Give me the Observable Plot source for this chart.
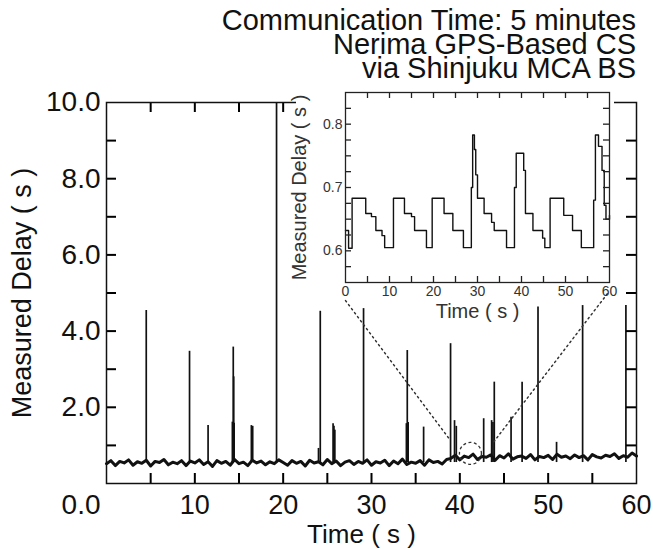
<!DOCTYPE html>
<html><head><meta charset="utf-8">
<script src="https://cdn.jsdelivr.net/npm/d3@7"></script>
<script src="https://cdn.jsdelivr.net/npm/@observablehq/plot@0.6"></script>
<style>
body{margin:0;background:#fff;}
#wrap{position:relative;width:653px;height:550px;font-family:"Liberation Sans",Arial,sans-serif;}
#title{position:absolute;right:17px;top:8px;text-align:right;font-size:29px;line-height:24px;color:#111;white-space:nowrap;}
#mask{position:absolute;left:296px;top:86px;width:318px;height:202px;background:#fff;}
#main{position:absolute;left:0;top:0;}
#inset{position:absolute;left:296px;top:86px;}
</style></head><body>
<div id="wrap">
<div id="main"></div>
<div id="mask"></div>
<div id="inset"></div>
<div id="title">Communication Time: 5 minutes<br>Nerima GPS-Based CS<br>via Shinjuku MCA BS</div>
</div>
<script>
// ---- main chart data ----
const baseStep = 0.5; // sampling interval (s) of the baseline trace
const baselineDelay = [
  0.52,0.60,0.47,0.58,0.54,0.62,0.48,0.57,0.53,0.61,
  0.46,0.58,0.55,0.63,0.49,0.56,0.52,0.60,0.47,0.59,
  0.54,0.62,0.50,0.57,0.45,0.60,0.53,0.58,0.48,0.63,
  0.52,0.56,0.47,0.61,0.54,0.59,0.49,0.57,0.52,0.62,
  0.55,0.48,0.60,0.53,0.58,0.46,0.61,0.54,0.57,0.49,
  0.63,0.52,0.59,0.47,0.56,0.60,0.50,0.58,0.53,0.62,
  0.48,0.57,0.54,0.61,0.47,0.59,0.52,0.64,0.50,0.56,
  0.53,0.60,0.48,0.62,0.55,0.58,0.51,0.63,
  0.66,0.74,0.62,0.72,0.68,0.77,0.63,0.71,0.69,0.75,
  0.61,0.73,0.67,0.78,0.64,0.70,0.72,0.66,0.76,0.62,
  0.71,0.68,0.74,0.63,0.77,0.69,0.72,0.65,0.75,0.68,
  0.73,0.62,0.76,0.70,0.67,0.74,0.71,0.78,0.66,0.73,
  0.69,0.80,0.72
];
const baseDelay = 0.55;
const spikeTimes = [4.5,9.4,11.5,14.25,14.35,14.4,14.45,16.4,16.55,19.25,
  24.0,24.2,25.65,25.75,25.85,29.1,33.95,34.05,34.15,35.9,
  38.95,39.4,39.6,42.7,43.6,43.75,43.9,45.8,47.05,48.85,
  50.95,53.9,58.8];
const spikePeaks = [4.54,3.47,1.52,1.61,3.58,2.8,1.58,1.52,1.5,10,
  0.92,4.52,1.57,1.5,1.4,4.59,1.57,3.49,1.6,1.48,
  3.67,1.65,1.5,1.70,1.65,1.6,2.66,1.74,2.66,4.63,
  1.08,4.67,4.67];
// zoom annotation (dotted guide lines and dashed circle)
const guideSide = ["left","left","right","right"];
const guideTimes = [27.06,38.94,56.7,43.7];
const guideDelay = [4.80,1.13,4.98,1.05];
const zoomTime = [41.2];
const zoomDelay = [0.79];
const xTickLabels = [10,20,30,40,50,60];
const xMinorTicks = [5,10,15,20,25,30,35,40,45,50,55];
const yTickLabels = [2,4,6,8,10];
const yMinorTicks = [1,2,3,4,5,6,7,8,9];

// ---- inset data (step trace) ----
const insetTimes = [0,0.7,1.5,4.6,5.9,6.9,8.3,8.9,10.9,13.4,
  15.0,15.7,18.4,19.7,22.4,24.4,26.8,28.6,28.9,29.3,
  29.6,30.0,31.5,33.2,33.8,36.6,38.4,38.8,40.5,40.9,
  42.6,44.8,45.3,46.5,49.6,51.6,53.6,56.4,56.8,57.5,
  58.3,58.8,59.2,60];
const insetDelay = [0.632,0.604,0.683,0.659,0.654,0.632,0.624,0.605,0.683,0.659,
  0.654,0.632,0.605,0.683,0.659,0.632,0.605,0.700,0.783,0.760,
  0.720,0.683,0.659,0.645,0.632,0.605,0.700,0.754,0.727,0.659,
  0.632,0.620,0.605,0.683,0.656,0.632,0.605,0.680,0.783,0.765,
  0.727,0.672,0.650,0.656];
const insetXTickLabels = [0,10,20,30,40,50,60];
const insetXMinor = [5,10,15,20,25,30,35,40,45,50,55];
const insetYTickLabels = [0.6,0.7,0.8];
const insetYMinor = [0.575,0.6,0.625,0.65,0.675,0.7,0.725,0.75,0.775,0.8,0.825];

// ---- build tables ----
const baseline = baselineDelay.map((v,i)=>({t:i*baseStep, v}));
const spikes = spikeTimes.map((t,i)=>({t, v:spikePeaks[i]}));
const guides = guideTimes.map((t,i)=>({t, v:guideDelay[i], side:guideSide[i]}));
const zoomMark = zoomTime.map((t,i)=>({t, v:zoomDelay[i]}));
const inset = insetTimes.map((t,i)=>({t, v:insetDelay[i]}));

const FONT = "Liberation Sans, Arial, sans-serif";

// inward tick marks on every frame edge; tick length given in pixels and
// converted to data units through the frame size and the scale domains
function tickSegments(xT, yT, xDom, yDom, frameW, frameH, len) {
  const ky = len * (yDom[1] - yDom[0]) / frameH;
  const kx = len * (xDom[1] - xDom[0]) / frameW;
  return [
    ...xT.map(t => ({x1:t, x2:t, y1:yDom[0], y2:yDom[0] + ky})),
    ...xT.map(t => ({x1:t, x2:t, y1:yDom[1] - ky, y2:yDom[1]})),
    ...yT.map(v => ({x1:xDom[0], x2:xDom[0] + kx, y1:v, y2:v})),
    ...yT.map(v => ({x1:xDom[1] - kx, x2:xDom[1], y1:v, y2:v}))
  ];
}

const MW = 653, MH = 550, ML = 106, MR = 17, MT = 102, MB = 67;
const mainX = [0, 60], mainY = [0, 10];
const mainTicks = tickSegments(xMinorTicks, yMinorTicks, mainX, mainY, MW-ML-MR, MH-MT-MB, 10);
const main = Plot.plot({
  width: MW, height: MH,
  marginLeft: ML, marginRight: MR, marginTop: MT, marginBottom: MB,
  x: {domain: mainX, axis: null},
  y: {domain: mainY, axis: null},
  style: {fontFamily: FONT, background: "#fff", color: "#111", overflow: "visible"},
  marks: [
    Plot.line(baseline, {x:"t", y:"v", stroke:"#111", strokeWidth:3}),
    Plot.ruleX(spikes, {x:"t", y1:baseDelay, y2:"v", stroke:"#111", strokeWidth:1.7}),
    Plot.ruleX(mainTicks, {x:"x1", y1:"y1", y2:"y2", stroke:"#000", strokeWidth:2}),
    Plot.ruleY(mainTicks, {y:"y1", x1:"x1", x2:"x2", stroke:"#000", strokeWidth:2}),
    Plot.line(guides, {x:"t", y:"v", z:"side", stroke:"#333", strokeWidth:1.5, strokeDasharray:"1.5,3.5"}),
    Plot.dot(zoomMark, {x:"t", y:"v", r:11, stroke:"#333", strokeWidth:1.3, strokeDasharray:"3,2.5", fill:"none"}),
    Plot.frame({stroke:"#111", strokeWidth:1.5}),
    Plot.axisX(xTickLabels, {anchor:"bottom", tickSize:0, tickPadding:11, fontSize:27, label:null, fill:"#111"}),
    Plot.axisY(yTickLabels, {anchor:"left", tickSize:0, tickPadding:6, fontSize:28, label:null, tickFormat:d3.format(".1f"), fill:"#111"}),
    Plot.text(["0.0"], {text:d=>d, frameAnchor:"bottom-left", textAnchor:"end", lineAnchor:"middle", dx:-6, dy:22, fontSize:28, fill:"#111"}),
    Plot.text(["Time ( s )"], {text:d=>d, frameAnchor:"bottom", textAnchor:"middle", lineAnchor:"middle", dx:-10, dy:51, fontSize:26, fill:"#111"}),
    Plot.text(["Measured Delay ( s )"], {text:d=>d, frameAnchor:"left", textAnchor:"middle", lineAnchor:"middle", rotate:-90, dx:-84, fontSize:27, fill:"#111"})
  ]
});
document.getElementById("main").appendChild(main);

const IW = 316, IH = 240, IL = 49, IR = 3, IT = 6, IB = 44;
const insX = [0, 60], insY = [0.55, 0.85];
const insTicks = tickSegments(insetXMinor, insetYMinor, insX, insY, IW-IL-IR, IH-IT-IB, 6);
const insetPlot = Plot.plot({
  width: IW, height: IH,
  marginLeft: IL, marginRight: IR, marginTop: IT, marginBottom: IB,
  x: {domain: insX, axis: null},
  y: {domain: insY, axis: null},
  style: {fontFamily: FONT, background: "transparent", color: "#333", overflow: "visible"},
  marks: [
    Plot.line(inset, {x:"t", y:"v", curve:"step-after", stroke:"#111", strokeWidth:1.4}),
    Plot.ruleX(insTicks, {x:"x1", y1:"y1", y2:"y2", stroke:"#222", strokeWidth:1.3}),
    Plot.ruleY(insTicks, {y:"y1", x1:"x1", x2:"x2", stroke:"#222", strokeWidth:1.3}),
    Plot.frame({stroke:"#222", strokeWidth:1.3}),
    Plot.axisX(insetXTickLabels, {anchor:"bottom", tickSize:0, tickPadding:4, fontSize:14, label:null, fill:"#333"}),
    Plot.axisY(insetYTickLabels, {anchor:"left", tickSize:0, tickPadding:3, fontSize:14, label:null, tickFormat:d3.format(".1f"), fill:"#333"}),
    Plot.text(["Time ( s )"], {text:d=>d, frameAnchor:"bottom", textAnchor:"middle", lineAnchor:"middle", dy:29, fontSize:20, fill:"#333"}),
    Plot.text(["Measured Delay ( s )"], {text:d=>d, frameAnchor:"left", textAnchor:"middle", lineAnchor:"middle", rotate:-90, dx:-46, fontSize:20, fill:"#333"})
  ]
});
document.getElementById("inset").appendChild(insetPlot);
</script>
</body></html>
